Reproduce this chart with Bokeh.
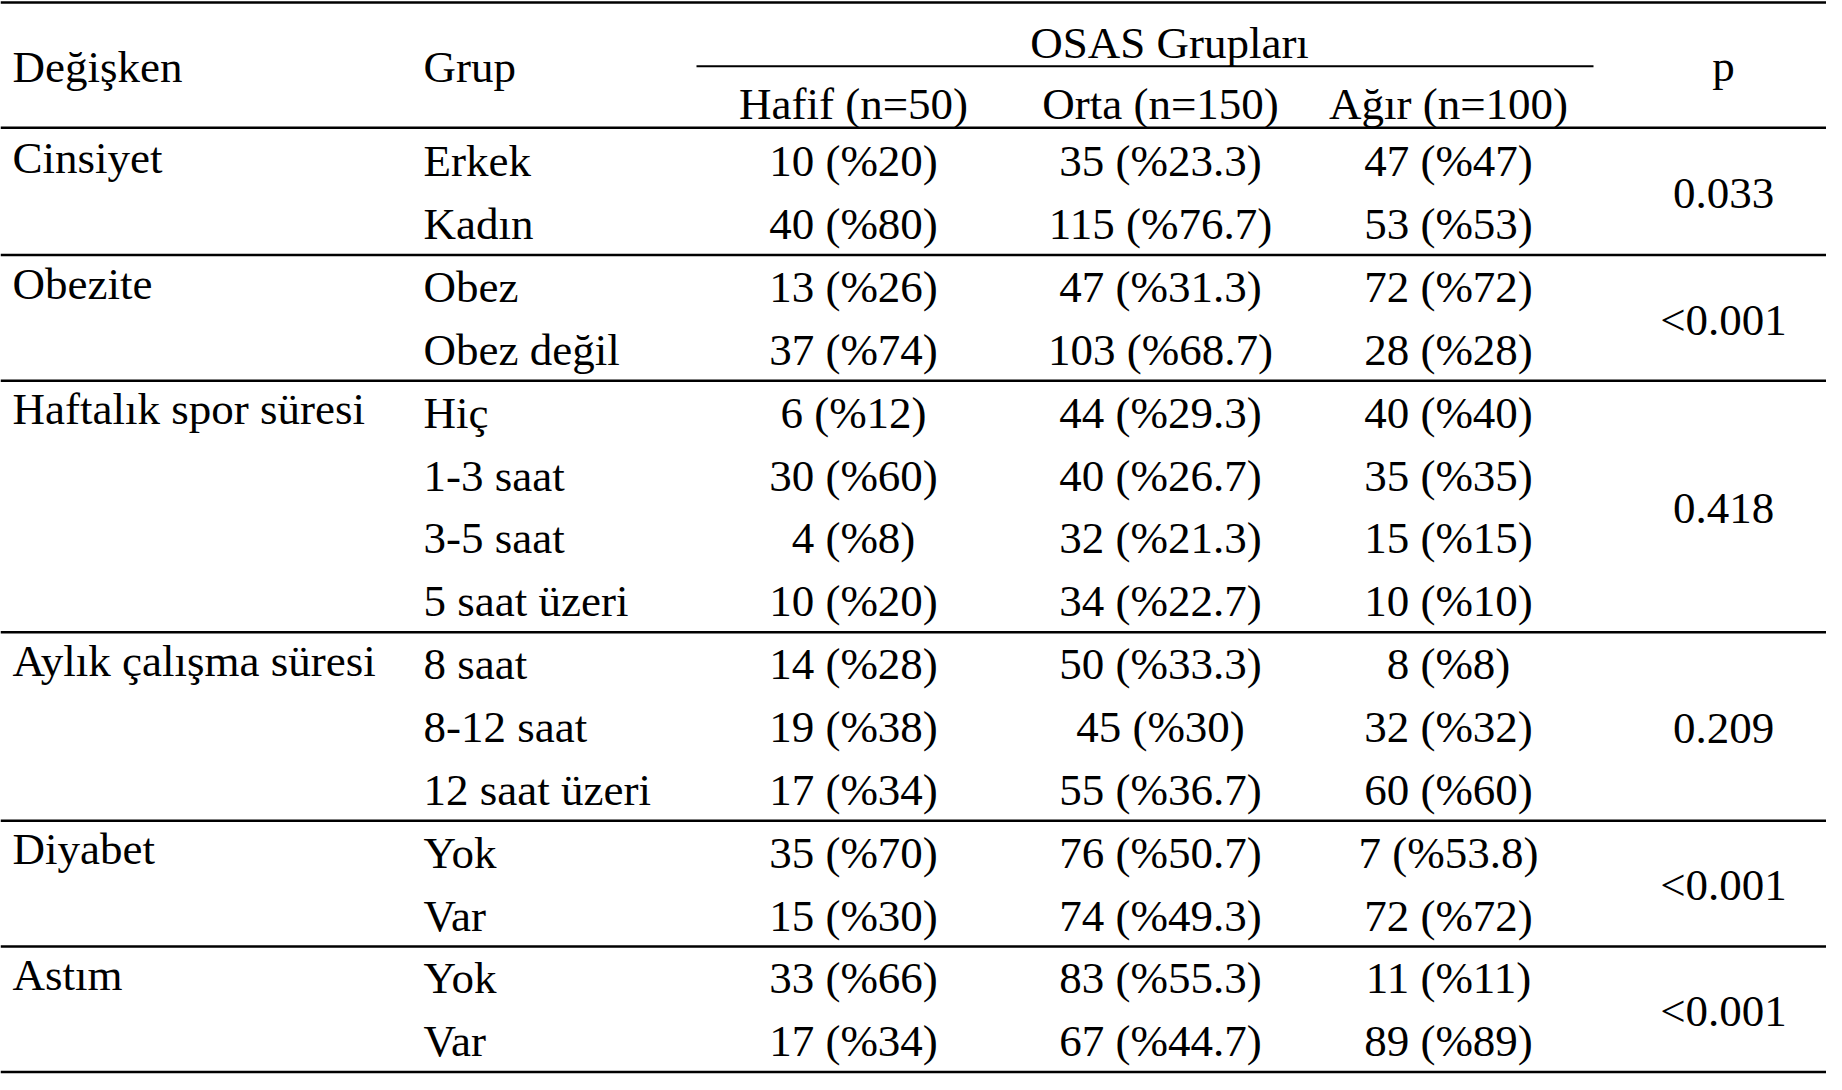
from bokeh.plotting import figure
from bokeh.models import ColumnDataSource, Range1d
from bokeh.core.properties import value
from bokeh.embed import file_html
from bokeh.resources import INLINE

# ---------------- data ----------------
variables = ["Cinsiyet", "Obezite", "Haftalık spor süresi", "Aylık çalışma süresi", "Diyabet", "Astım"]
group_sizes = [2, 2, 4, 3, 2, 2]
groups = ["Erkek", "Kadın", "Obez", "Obez değil", "Hiç", "1-3 saat", "3-5 saat", "5 saat üzeri",
          "8 saat", "8-12 saat", "12 saat üzeri", "Yok", "Var", "Yok", "Var"]
hafif_n = [10, 40, 13, 37, 6, 30, 4, 10, 14, 19, 17, 35, 15, 33, 17]
hafif_pct = ["20", "80", "26", "74", "12", "60", "8", "20", "28", "38", "34", "70", "30", "66", "34"]
orta_n = [35, 115, 47, 103, 44, 40, 32, 34, 50, 45, 55, 76, 74, 83, 67]
orta_pct = ["23.3", "76.7", "31.3", "68.7", "29.3", "26.7", "21.3", "22.7", "33.3", "30", "36.7",
            "50.7", "49.3", "55.3", "44.7"]
agir_n = [47, 53, 72, 28, 40, 35, 15, 10, 8, 32, 60, 7, 72, 11, 89]
agir_pct = ["47", "53", "72", "28", "40", "35", "15", "10", "8", "32", "60", "53.8", "72", "11", "89"]
p_values = ["0.033", "<0.001", "0.418", "0.209", "<0.001", "<0.001"]
osas_names = ["Hafif", "Orta", "Ağır"]
osas_sizes = [50, 150, 100]
header_var = "Değişken"
header_group = "Grup"
header_osas = "OSAS Grupları"
header_p = "p"

# ---------------- layout ----------------
FONT = value("Liberation Serif")
FS = "45px"
W, H = 1826, 1074
X_VAR, X_GRP = 12, 423
X_COLS = [853, 1160, 1448]
X_P = 1723
Y0, PITCH = 179.3, 63.2
LINE_OFF = 18.5
TDY = -12.5  # baseline correction for text placement

p = figure(width=W, height=H, output_backend="svg", toolbar_location=None,
           x_range=Range1d(0, 1826), y_range=Range1d(1085, 5),
           min_border=0, min_border_left=0, min_border_right=0,
           min_border_top=0, min_border_bottom=0)
p.axis.visible = False
p.xgrid.visible = False
p.ygrid.visible = False
p.outline_line_color = None
p.background_fill_color = "white"
p.border_fill_color = "white"

def row_y(i):
    return Y0 + i * PITCH

# body cells
xs, ys, txt, align = [], [], [], []
for i, g in enumerate(groups):
    y = row_y(i)
    xs.append(X_GRP); ys.append(y); txt.append(g); align.append("left")
    for xc, n, pc in zip(X_COLS, [hafif_n, orta_n, agir_n], [hafif_pct, orta_pct, agir_pct]):
        xs.append(xc); ys.append(y); txt.append(f"{n[i]} (%{pc[i]})"); align.append("center")

start = 0
line_y = [7, 133]
for v, sz, pv in zip(variables, group_sizes, p_values):
    y_first = row_y(start)
    y_last = row_y(start + sz - 1)
    xs.append(X_VAR); ys.append(y_first - 3.5); txt.append(v); align.append("left")
    xs.append(X_P); ys.append((y_first + y_last) / 2 + 1); txt.append(pv); align.append("center")
    line_y.append(y_last + LINE_OFF)
    start += sz

# header
hdr = [(X_VAR, 84, header_var, "left"), (X_GRP, 84, header_group, "left"),
       (1169, 60, header_osas, "center"), (X_P, 83, header_p, "center")]
for xc, nm, sz in zip(X_COLS, osas_names, osas_sizes):
    hdr.append((xc, 122, f"{nm} (n={sz})", "center"))
for x, y, t, a in hdr:
    xs.append(x); ys.append(y); txt.append(t); align.append(a)

ys = [y + TDY for y in ys]
src = ColumnDataSource(dict(x=xs, y=ys, text=txt, align=align))
p.text(x="x", y="y", text="text", source=src, text_align="align",
       text_baseline="alphabetic", text_font=FONT, text_font_size=FS, text_color="black")

# rules
p.segment(x0=[0] * len(line_y), x1=[1842] * len(line_y), y0=line_y, y1=line_y,
          line_color="black", line_width=2.5)
p.segment(x0=[696], x1=[1593], y0=[71], y1=[71], line_color="black", line_width=2)

open("out.html", "w").write(file_html(p, INLINE))
